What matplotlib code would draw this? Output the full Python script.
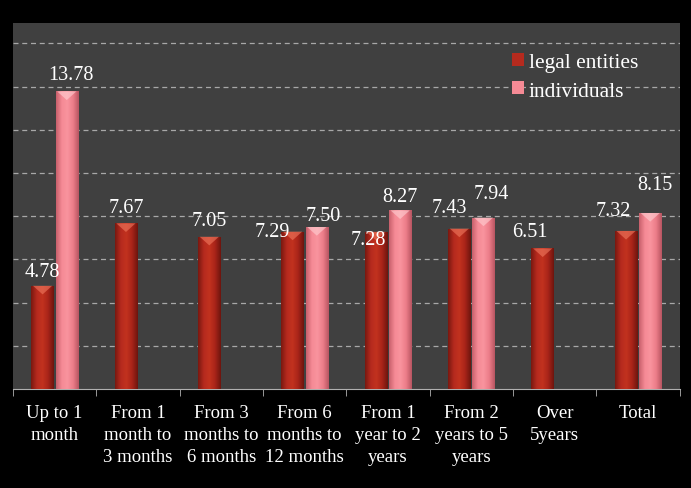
import numpy as np
import matplotlib.pyplot as plt
from matplotlib.colors import LinearSegmentedColormap
from matplotlib.patches import Patch, Polygon

plt.rcParams['font.family'] = ['Liberation Serif', 'DejaVu Serif']

# data
categories = ['Up to 1\nmonth', 'From 1\nmonth to\n3 months', 'From 3\nmonths to\n6 months',
              'From 6\nmonths to\n12 months', 'From 1\nyear to 2\nyears', 'From 2\nyears to 5\nyears',
              'Over\n5years', 'Total']
legal = [4.78, 7.67, 7.05, 7.29, 7.28, 7.43, 6.51, 7.32]
indiv = [13.78, np.nan, np.nan, 7.50, 8.27, 7.94, np.nan, 8.15]

# label offsets in pixels (dx, dy) from bar top centre
legal_off = [(0, 14), (0, 16), (0, 16), (-20, 0), (-8, -8), (-10, 21), (-13, 17), (-13, 20)]
indiv_off = [(4, 17), (0, 0), (0, 0), (6, 12), (0, 14), (8, 24), (0, 0), (5, 28)]

red_cm = LinearSegmentedColormap.from_list('r', ['#7a1810', '#b52a1e', '#c2321f', '#a82419', '#6e150e'])
pink_cm = LinearSegmentedColormap.from_list('p', ['#c8606c', '#f58a95', '#f9949e', '#ec7d89', '#b85562'])

fig = plt.figure(figsize=(6.91, 4.89), dpi=100, facecolor='black')
ax = fig.add_axes([0.0188, 0.2025, 0.965, 0.7485])
ax.set_facecolor('#404040')

x = np.arange(len(categories))
w = 0.27
off = 0.145

grad = np.linspace(0, 1, 64).reshape(1, -1)


def draw(vals, xs, cm, top_col, offs, name):
    bars = ax.bar(xs, vals, w, color=cm(0.4), zorder=3, label=name, linewidth=0)
    for b, v, (dx, dy) in zip(bars, vals, offs):
        if np.isnan(v):
            continue
        bx, bw = b.get_x(), b.get_width()
        im = ax.imshow(grad, extent=[bx, bx + bw, 0, v], cmap=cm, aspect='auto', zorder=3.5)
        im.set_clip_path(b)
        tri = Polygon([[bx + 0.02, v], [bx + bw - 0.02, v], [bx + bw / 2, v - 0.4]],
                      closed=True, facecolor=top_col, alpha=0.6, linewidth=0, zorder=4)
        ax.add_patch(tri)
        ax.annotate(f'{v:.2f}', (bx + bw / 2, v), xytext=(dx, dy), textcoords='offset pixels',
                    ha='center', va='center', color='white', fontsize=14.5, zorder=5)


draw(legal, x - off, red_cm, '#f07a60', legal_off, 'legal entities')
draw(indiv, x + off, pink_cm, '#ffd0d4', indiv_off, 'individuals')

ax.set_xlim(-0.5, len(categories) - 0.5)
ax.set_ylim(0, 16.95)
ax.set_yticks(np.arange(2, 17, 2))
ax.yaxis.grid(True, color='#a8a8a8', linestyle=(0, (4, 3)), linewidth=0.9, zorder=1)
ax.tick_params(axis='y', left=False, labelleft=False)

ax.set_xticks(x)
ax.set_xticklabels(categories, color='white', fontsize=13.5, linespacing=1.38)
ax.set_xticks(np.arange(-0.5, len(categories)), minor=True)
ax.tick_params(axis='x', which='major', length=0, pad=11)
ax.tick_params(axis='x', which='minor', length=5, color='#b0b0b0', direction='out')

for s in ['top', 'right', 'left']:
    ax.spines[s].set_visible(False)
ax.spines['bottom'].set_color('#b0b0b0')

handles = [Patch(facecolor='#b52a1e'), Patch(facecolor='#f58a95')]
leg = ax.legend(handles, ['legal entities', 'individuals'], loc='upper left',
                bbox_to_anchor=(0.72, 0.97), frameon=False, fontsize=15.5,
                handlelength=0.55, handleheight=0.55, handletextpad=0.2, labelspacing=0.42,
                labelcolor='white')

fig.savefig('out.png', dpi=100, facecolor='black')
